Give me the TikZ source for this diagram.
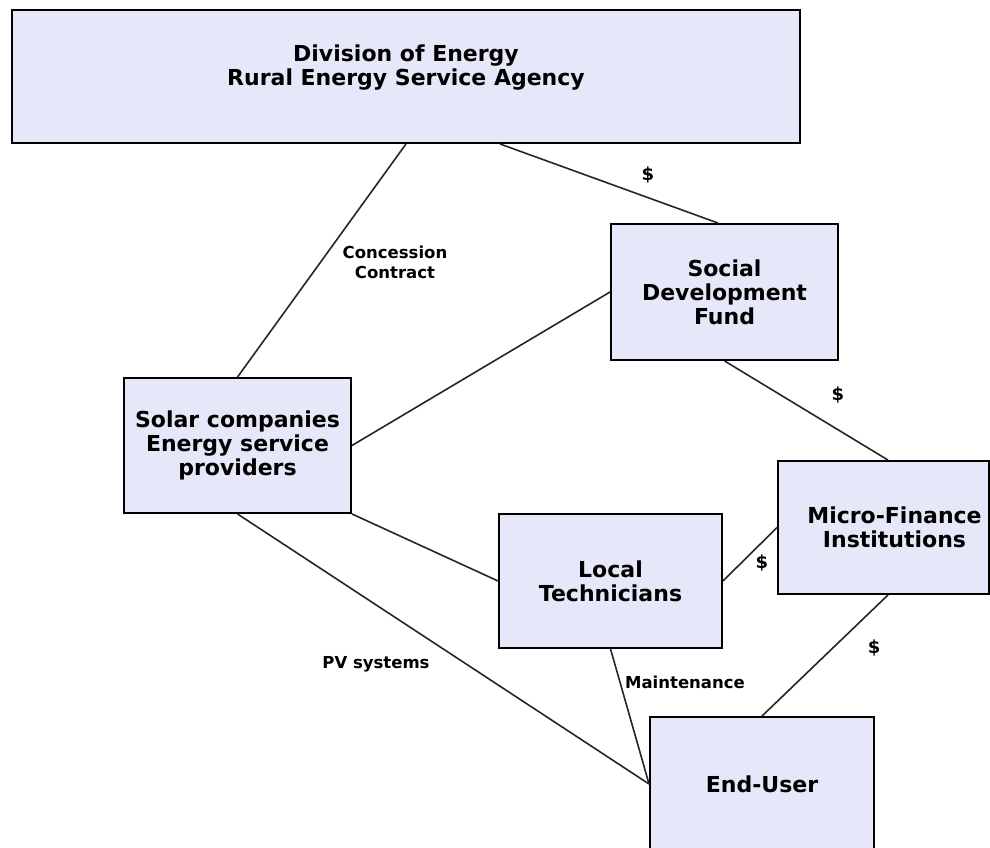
\documentclass[tikz,border=0pt]{standalone}
\usepackage{fontspec}
\setmainfont{DejaVu Sans}
\usetikzlibrary{calc}
\definecolor{boxfill}{RGB}{230,232,250}
\tikzset{
  entity/.style={draw=black, line width=1.9pt, fill=boxfill, rectangle, inner sep=0pt, align=center,
    font=\fontsize{22}{24}\selectfont\bfseries},
  link/.style={draw=black!85, line width=1.6pt},
  lbl/.style={font=\fontsize{16.5}{20}\selectfont\bfseries, align=center, inner sep=0pt},
  money/.style={font=\fontsize{18}{20}\selectfont\bfseries, inner sep=0pt}
}
\begin{document}
\begin{tikzpicture}[x=1pt,y=-1pt]
\useasboundingbox (0,0) rectangle (990,848);
\fill[white] (0,0) rectangle (990,848);
\node[entity, minimum width=788pt, minimum height=133pt] (doe) at (406,76.5) {Division of Energy\\Rural Energy Service Agency\\[-2pt]};
\node[entity, minimum width=227pt, minimum height=136pt] (sdf) at (724.5,292) {Social\\Development\\Fund};
\node[entity, minimum width=211pt, minimum height=133pt] (mfi) at (883.5,527.5) {\hspace*{22pt}Micro-Finance\\\hspace*{22pt}Institutions};
\node[entity, minimum width=223pt, minimum height=134pt] (lt) at (610.5,581) {Local\\Technicians};
\node[entity, minimum width=227pt, minimum height=135pt] (sol) at (237.5,445.5) {Solar companies\\Energy service\\providers};
\node[entity, minimum width=224pt, minimum height=134pt] (eu) at (762,784) {End-User};

\draw[link] (doe.south) -- (sol.north);
\draw[link] ([xshift=94pt]doe.south) -- ([xshift=-6.5pt]sdf.north);
\draw[link] (sol.east) -- (sdf.west);
\draw[link] (sdf.south) -- ([xshift=4.5pt]mfi.north);
\draw[link] (sol.south east) -- (lt.west);
\draw[link] (lt.east) -- (mfi.west);
\draw[link] ([xshift=4.5pt]mfi.south) -- (eu.north);
\draw[link] (sol.south) -- (eu.west);
\draw[link] (lt.south) -- (eu.west);

\node[money] (d1) at (648,175) {\$};
\node[money] (d2) at (838,395) {\$};
\node[money] (d3) at (762,563) {\$};
\node[money] (d4) at (874,648) {\$};
\node[lbl] (cc) at (395,262) {Concession\\Contract};
\node[lbl] (pv) at (376,664) {PV systems};
\node[lbl] (mt) at (685,682) {Maintenance};
\end{tikzpicture}
\end{document}
